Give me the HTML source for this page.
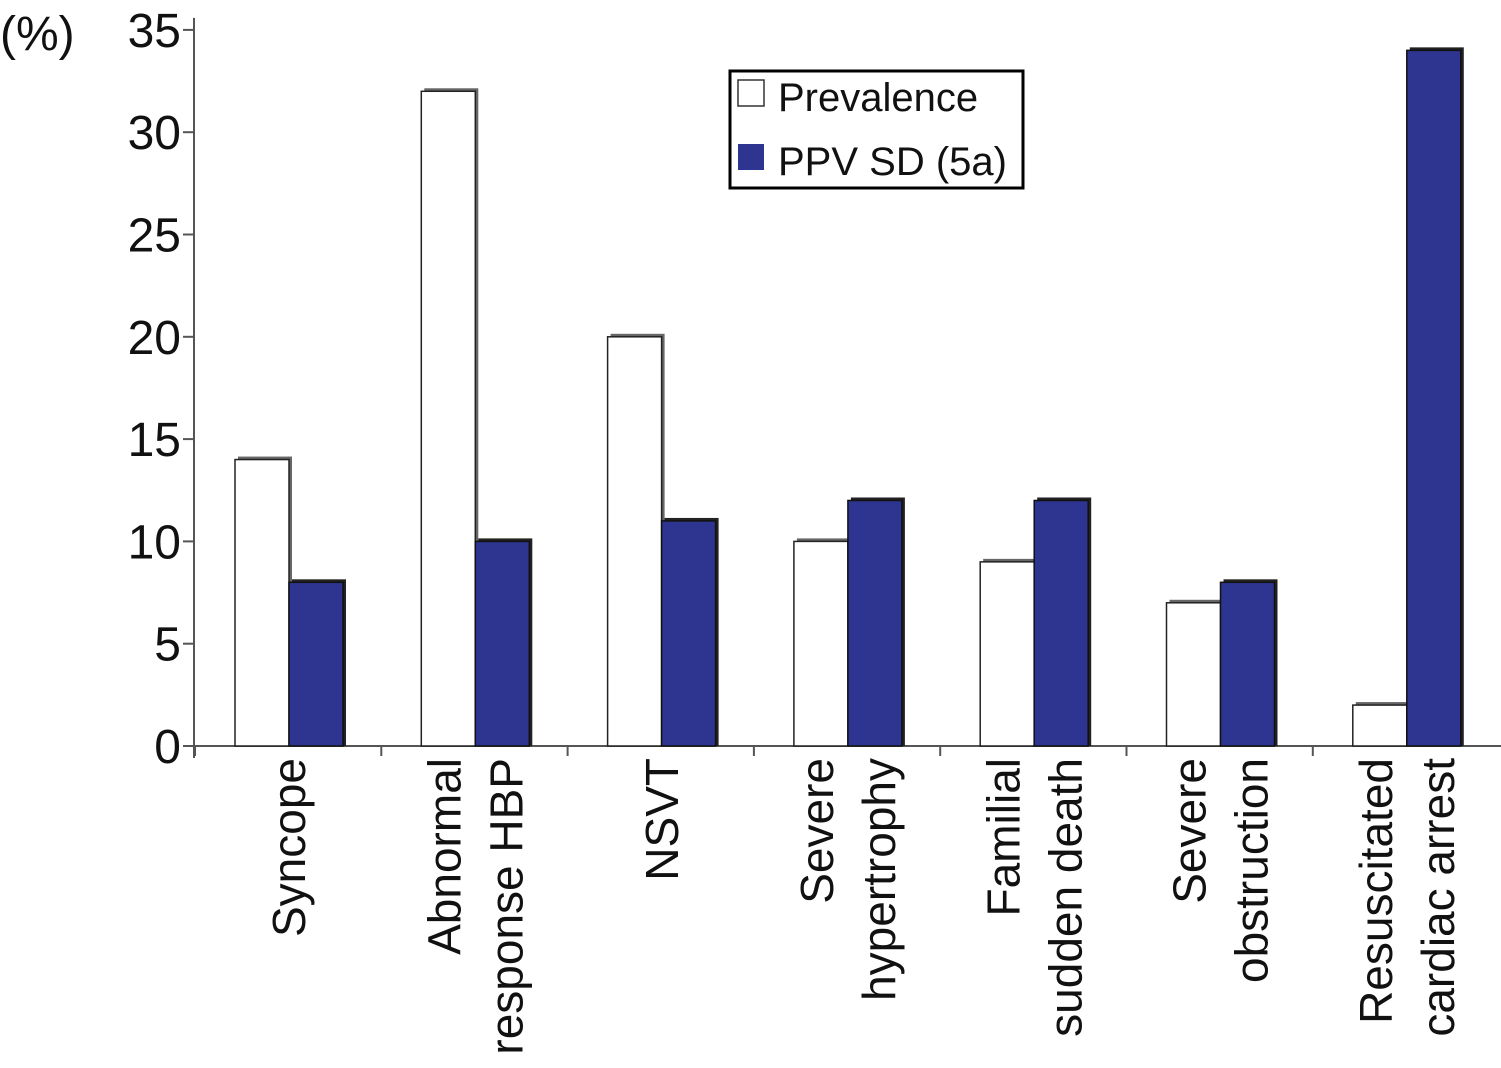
<!DOCTYPE html>
<html><head><meta charset="utf-8"><style>
body{margin:0;background:#fff}
svg text{font-family:"Liberation Sans",Arial,sans-serif;fill:#111}
</style></head><body>
<svg id="chart" width="1501" height="1063" xmlns="http://www.w3.org/2000/svg"></svg>
<script>
const categories=[["Syncope"],["Abnormal","response HBP"],["NSVT"],["Severe","hypertrophy"],["Familial","sudden death"],["Severe","obstruction"],["Resuscitated","cardiac arrest"]];
const prevalence=[14,32,20,10,9,7,2];
const ppv=[8,10,11,12,12,8,34];
const yTicks=[0,5,10,15,20,25,30,35];
const NS="http://www.w3.org/2000/svg";
const svg=document.getElementById('chart');
const y0=746,pxPer=20.46,axisX=194,groupStart=195,groupW=186.3,barW=54,barOff=40;
const y=v=>y0-v*pxPer;
function mk(tag,attrs,parent){const e=document.createElementNS(NS,tag);for(const k in attrs)e.setAttribute(k,attrs[k]);(parent||svg).appendChild(e);return e;}
const ya=mk('line',{x1:axisX,y1:y(35)-12,x2:axisX,y2:y0+12,stroke:'#555','stroke-width':2});


const xa=mk('line',{x1:188,y1:y0,x2:1501,y2:y0,stroke:'#555','stroke-width':2});


yTicks.forEach(t=>{
  const l=mk('line',{x1:183,y1:y(t),x2:axisX,y2:y(t),stroke:'#555','stroke-width':2});
  
  
  const tx=mk('text',{x:181,y:y(t)+17,'text-anchor':'end','font-size':48});
  tx.textContent=t;
  
  
});
const yt=mk('text',{x:0,y:50,'font-size':48});
yt.textContent='(%)';


categories.forEach((c,i)=>{
  const gx=groupStart+i*groupW;
  const tk=mk('line',{x1:gx,y1:y0,x2:gx,y2:y0+10,stroke:'#555','stroke-width':2});
  
  
  const px=gx+barOff, ph=prevalence[i];
  mk('rect',{x:px+3,y:y(ph)-3,width:barW,height:ph*pxPer+3,fill:'#666'});
  const b1=mk('rect',{x:px,y:y(ph),width:barW,height:ph*pxPer,fill:'#fff',stroke:'#222','stroke-width':1.5});
  
  
  const bx=px+barW, bh=ppv[i];
  mk('rect',{x:bx+3,y:y(bh)-3,width:barW,height:bh*pxPer+3,fill:'#222'});
  const b2=mk('rect',{x:bx,y:y(bh),width:barW,height:bh*pxPer,fill:'#2e3590',stroke:'#111','stroke-width':1.5});
  
  
  const cx=gx+groupW/2;
  const n=c.length;
  c.forEach((line,j)=>{
    const lx=cx+(j-(n-1)/2)*62+17;
    const t=mk('text',{x:0,y:0,'font-size':46,'text-anchor':'end',transform:`translate(${lx},758) rotate(-90)`});
    t.textContent=line;
    
    
  });
});
const lg=mk('g',{});


mk('rect',{x:730,y:71,width:293,height:117,fill:'#fff',stroke:'#000','stroke-width':3},lg);
mk('rect',{x:738,y:80,width:26,height:26,fill:'#fff',stroke:'#333','stroke-width':1.5},lg);
mk('rect',{x:738,y:144,width:26,height:26,fill:'#2e3590'},lg);
const l1=mk('text',{x:778,y:111,'font-size':40},lg);l1.textContent='Prevalence';


const l2=mk('text',{x:778,y:175,'font-size':40},lg);l2.textContent='PPV SD (5a)';


</script>
</body></html>
